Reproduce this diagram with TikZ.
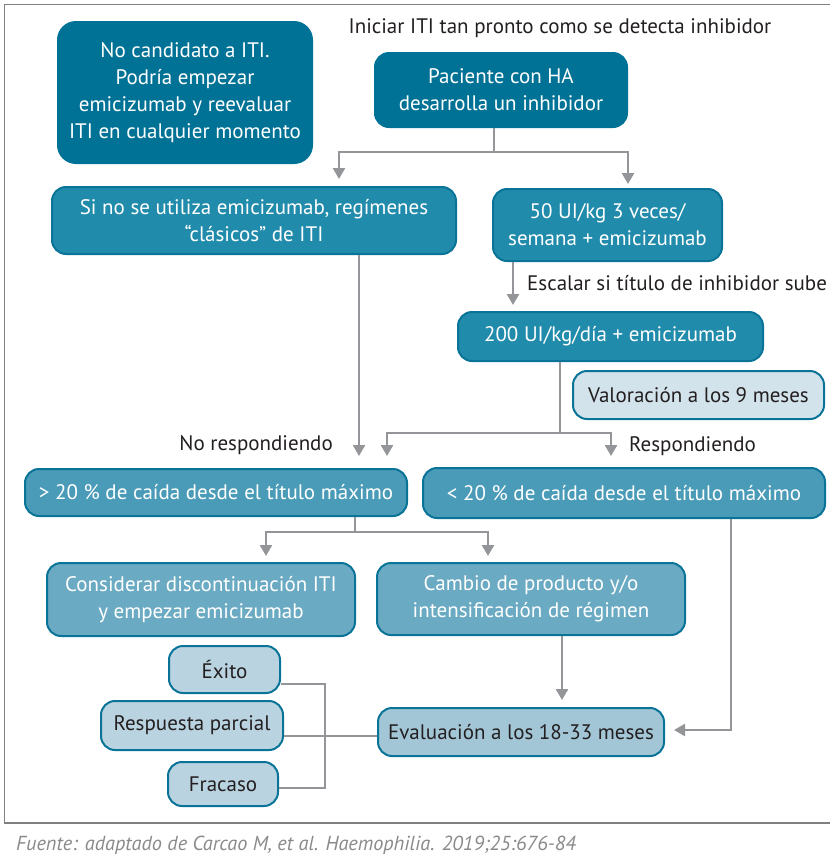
\documentclass[tikz,border=0pt]{standalone}
\usepackage{fontspec}
\setmainfont{PT Sans}
\usetikzlibrary{arrows.meta}

\definecolor{tealDark}{HTML}{007296}
\definecolor{tealMid}{HTML}{218BAC}
\definecolor{tealSoft}{HTML}{4A9BB8}
\definecolor{tealPale}{HTML}{6BAAC3}
\definecolor{blueEval}{HTML}{A2C6D6}
\definecolor{blueOut}{HTML}{B9D3E0}
\definecolor{blueNote}{HTML}{D3E3EB}
\definecolor{edgeTeal}{HTML}{0A7398}
\definecolor{linkGray}{HTML}{939598}
\definecolor{inkDark}{HTML}{231F20}
\definecolor{frameGray}{HTML}{808080}
\definecolor{noteGray}{HTML}{8A8A8A}

\newcommand\flowfont{\fontsize{21}{27}\selectfont}
\newcommand\labelfont{\fontsize{21}{25}\selectfont}

\tikzset{
  box/.style={draw=edgeTeal, line width=2pt, rounded corners=14pt,
    align=center, inner sep=0pt, font=\flowfont},
  darkbox/.style={box, fill=tealDark, draw=tealDark, text=white},
  midbox/.style={box, fill=tealMid, text=white},
  softbox/.style={box, fill=tealSoft, text=white},
  palebox/.style={box, fill=tealPale, text=white},
  evalbox/.style={box, fill=blueEval, text=inkDark},
  outbox/.style={box, fill=blueOut, text=inkDark},
  notebox/.style={box, fill=blueNote, text=inkDark},
  caption/.style={font=\labelfont, text=inkDark, inner sep=0pt},
  link/.style={draw=linkGray, line width=2.5pt},
  arr/.style={link, -{Triangle[width=12pt,length=11pt]}},
  frame/.style={draw=frameGray, line width=1.5pt}
}

\begin{document}
\begin{tikzpicture}[x=1pt,y=-1pt]
\useasboundingbox (0,0) rectangle (830,863);

% outer frame and footer rule
\draw[frame] (830,4.5) -- (4.5,4.5) -- (4.5,823) -- (830,823);

% heading
\node[caption] (head) at (560,28) {Iniciar ITI tan pronto como se detecta inhibidor};

% boxes
\node[darkbox, rounded corners=18pt, minimum width=254pt, minimum height=141pt] (nocand) at (185,92.5)
  {No candidato a ITI.\\Podría empezar\\emicizumab y reevaluar\\ITI en cualquier momento};
\node[darkbox, minimum width=252pt, minimum height=74pt] (paciente) at (501,90)
  {Paciente con HA\\desarrolla un inhibidor};
\node[midbox, minimum width=404pt, minimum height=67pt] (clasicos) at (254,220.5)
  {Si no se utiliza emicizumab, regímenes\\“clásicos” de ITI};
\node[midbox, minimum width=229pt, minimum height=72pt] (semana) at (607.5,225)
  {50 UI/kg 3 veces/\\semana + emicizumab};
\node[midbox, minimum width=305pt, minimum height=49pt] (d200) at (610.5,336.5)
  {200 UI/kg/día + emicizumab};
\node[notebox, minimum width=251pt, minimum height=48pt] (valor) at (698.5,395)
  {Valoración a los 9 meses};
\node[softbox, minimum width=382pt, minimum height=47pt] (gt20) at (216,492.5)
  {> 20 \% de caída desde el título máximo};
\node[softbox, minimum width=402pt, minimum height=50pt] (lt20) at (624,493)
  {< 20 \% de caída desde el título máximo};
\node[palebox, minimum width=308pt, minimum height=73pt] (consid) at (201,599.5)
  {Considerar discontinuación ITI\\y empezar emicizumab};
\node[palebox, minimum width=308pt, minimum height=72pt] (cambio) at (531,599)
  {Cambio de producto y/o\\intensificación de régimen};
\node[evalbox, minimum width=286pt, minimum height=48pt] (eval) at (521,732)
  {Evaluación a los 18-33 meses};
\node[outbox, minimum width=111pt, minimum height=47pt] (exito) at (224.5,669.5) {Éxito};
\node[outbox, minimum width=182pt, minimum height=49pt] (resp) at (192,725.5) {Respuesta parcial};
\node[outbox, minimum width=110pt, minimum height=44pt] (fracaso) at (223,784) {Fracaso};

% branch labels
\node[caption, anchor=west] (escalar) at (527,283) {Escalar si título de inhibidor sube};
\node[caption, anchor=east] (noresp) at (333,445) {No respondiendo};
\node[caption, anchor=west] (siresp) at (629,446) {Respondiendo};

% bend points
\coordinate (s1) at (494,152);
\coordinate (s1l) at (339,152);
\coordinate (s1r) at (628,152);
\coordinate (c1) at (359,300);
\coordinate (e1) at (513,285);
\coordinate (d1) at (560,433);
\coordinate (d1l) at (387,433);
\coordinate (d1r) at (611,433);
\coordinate (g1) at (355,532);
\coordinate (g1l) at (266,532);
\coordinate (g1r) at (488,532);
\coordinate (h1) at (562,670);
\coordinate (k1) at (731,730);
\coordinate (b1) at (325,684);
\coordinate (b2) at (325,788);
\coordinate (b3) at (325,736);

% connectors
\draw[arr, shorten >=7pt] (paciente.south -| s1) -- (s1) -| (clasicos.north -| s1l);
\draw[arr, shorten >=4pt] (s1) -| (semana.north -| s1r);
\draw[arr, shorten >=12pt] (clasicos.south -| c1) -- (gt20.north -| c1);
\draw[arr, shorten >=6pt] (semana.south -| e1) -- (d200.north -| e1);
\draw[link] (d200.south -| d1) -- (d1);
\draw[arr, shorten >=12pt] (d1) -| (gt20.north -| d1l);
\draw[arr, shorten >=11pt] (d1) -| (lt20.north -| d1r);
\draw[link] (gt20.south -| g1) -- (g1);
\draw[arr, shorten >=6pt] (g1) -| (consid.north -| g1l);
\draw[arr, shorten >=6pt] (g1) -| (cambio.north -| g1r);
\draw[arr, shorten >=7pt] (cambio.south -| h1) -- (eval.north -| h1);
\draw[arr, shorten >=9pt] (lt20.south -| k1) |- (eval.east |- k1);
\draw[link] (exito.east |- b1) -- (b1) -- (b2) -- (fracaso.east |- b2);
\draw[link] (resp.east |- b3) -- (eval.west |- b3);

% source note
\node[anchor=west, inner sep=0pt, text=noteGray, font=\fontsize{20.3}{24}\selectfont\itshape] (fuente) at (16,845)
  {Fuente: adaptado de Carcao M, et al. Haemophilia. 2019;25:676-84};
\end{tikzpicture}
\end{document}
